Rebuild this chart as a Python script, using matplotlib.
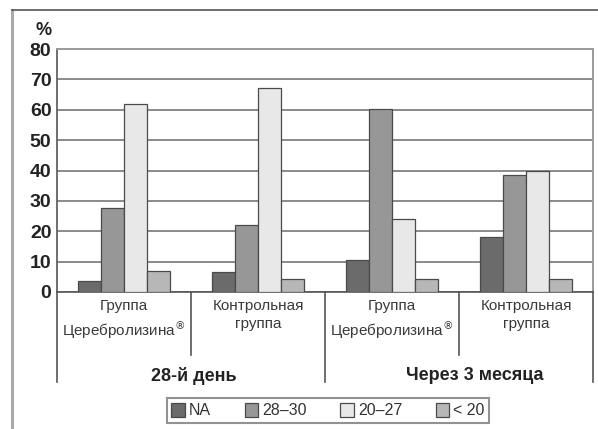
import matplotlib
matplotlib.use("Agg")
import matplotlib.pyplot as plt
import numpy as np
from matplotlib.lines import Line2D
from matplotlib.patches import Patch

plt.rcParams['font.family'] = ['Liberation Sans', 'DejaVu Sans']

groups = ["Группа\nЦеребролизина$^{®}$", "Контрольная\nгруппа",
          "Группа\nЦеребролизина$^{®}$", "Контрольная\nгруппа"]
periods = ["28-й день", "Через 3 месяца"]
series_names = ["NA", "28–30", "20–27", "< 20"]
na = [3.5, 6.7, 10.5, 18.0]
r28_30 = [27.6, 22.0, 60.4, 38.5]
r20_27 = [61.8, 67.3, 24.0, 40.0]
lt20 = [7.0, 4.3, 4.2, 4.2]
yticks = [0, 10, 20, 30, 40, 50, 60, 70, 80]

series = [na, r28_30, r20_27, lt20]
colors = ["#6b6b6b", "#979797", "#e8e8e8", "#b7b7b7"]
edge = "#4a4a4a"

W, H = 598, 429
fig = plt.figure(figsize=(W / 100, H / 100), dpi=100)
ax = fig.add_axes([57 / W, (H - 292) / H, 536 / W, 243 / H])

x = np.arange(len(groups))
bw = 0.172
for i, (vals, c) in enumerate(zip(series, colors)):
    ax.bar(x + (i - 1.5) * bw, vals, bw, color=c, edgecolor=edge, linewidth=0.9,
           zorder=3, label=series_names[i])

ax.set_xlim(-0.5, len(groups) - 0.5)
ax.set_ylim(0, 80)
ax.set_yticks(yticks)
ax.set_yticklabels([str(v) for v in yticks], fontsize=14, fontweight='bold', color='#222222')
ax.tick_params(axis='y', length=0, pad=4)
ax.set_xticks([])
ax.grid(axis='y', color='#8a8a8a', linewidth=1.4, zorder=0)
for s in ['top', 'right']:
    ax.spines[s].set_color('#9a9a9a')
    ax.spines[s].set_linewidth(1.4)
ax.spines['left'].set_color('#555555')
ax.spines['left'].set_linewidth(1.2)
ax.spines['bottom'].set_color('#555555')
ax.spines['bottom'].set_linewidth(1.2)

ax.text(-0.025, 1.075, "%", transform=ax.transAxes, fontsize=13, fontweight='bold',
        color='#222222', ha='center', va='center')

trans = ax.get_xaxis_transform()
# divider lines below axis
short_y = -0.259
long_y = -0.37
for xd, yd in [(-0.5, long_y), (0.5, short_y), (1.5, long_y), (2.5, short_y), (3.5, long_y)]:
    ax.plot([xd, xd], [0, yd], transform=trans, color='#555555', linewidth=1.2,
            clip_on=False, zorder=4)

for xi, g in zip(x, groups):
    ax.text(xi, -0.03, g, transform=trans, ha='center', va='top', fontsize=11,
            color='#3a3a3a', linespacing=1.3)

period_x = [0.52, 2.62]
for px, p in zip(period_x, periods):
    ax.text(px, -0.345, p, transform=trans, ha='center', va='center', fontsize=13,
            fontweight='bold', color='#222222')

handles = [Patch(facecolor=c, edgecolor=edge, linewidth=0.9) for c in colors]
leg = fig.legend(handles, series_names, loc='center', bbox_to_anchor=(328 / W, (H - 410.5) / H),
                 ncol=4, fontsize=11.5, frameon=True, fancybox=False, handlelength=0.85,
                 handleheight=1.0, handletextpad=0.25, columnspacing=2.1,
                 borderpad=0.3, labelcolor='#333333')
leg.get_frame().set_edgecolor('#777777')
leg.get_frame().set_linewidth(1.5)

# outer frame lines
fig.add_artist(Line2D([12 / W, 12 / W], [0, (H - 10) / H], color='#aaaaaa', linewidth=2.2))
fig.add_artist(Line2D([12 / W, 1], [(H - 10) / H, (H - 10) / H], color='#555555', linewidth=1.2))

fig.savefig("out.png", dpi=100)
